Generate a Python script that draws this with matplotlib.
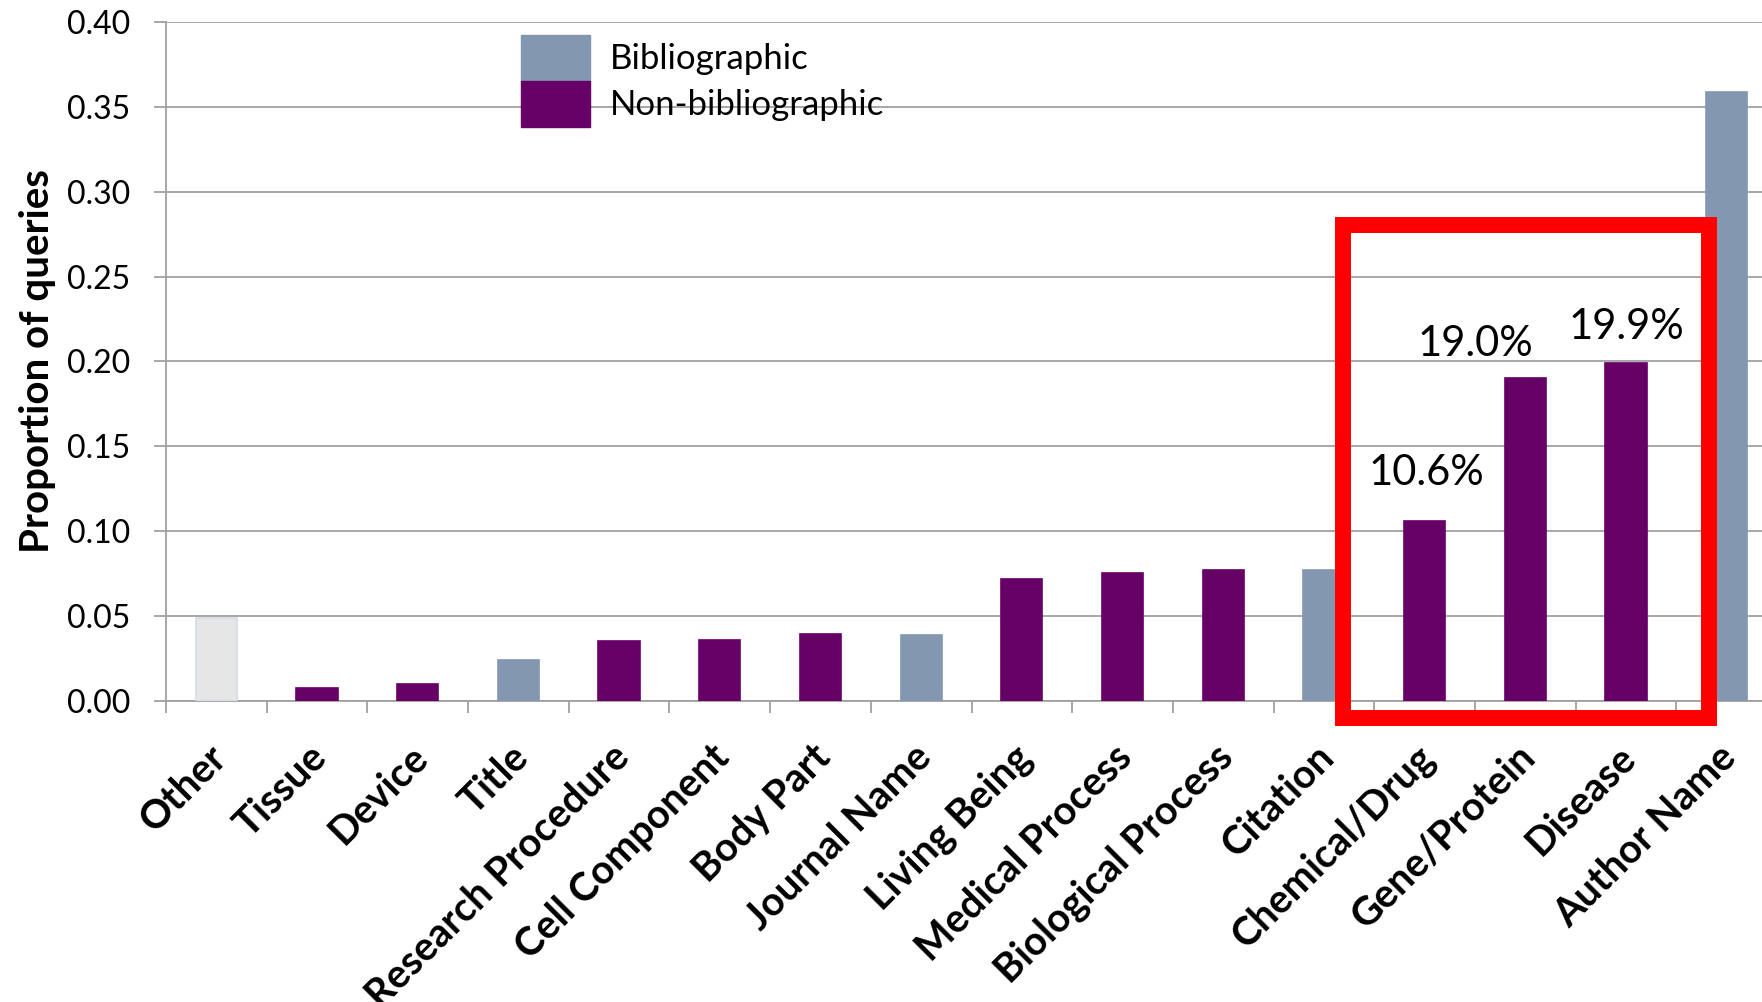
import numpy as np
import matplotlib
matplotlib.use("Agg")
import matplotlib.pyplot as plt
from matplotlib.patches import Rectangle, Patch
from matplotlib.transforms import ScaledTranslation

categories = ["Other", "Tissue", "Device", "Title", "Research Procedure",
              "Cell Component", "Body Part", "Journal Name", "Living Being",
              "Medical Process", "Biological Process", "Citation",
              "Chemical/Drug", "Gene/Protein", "Disease", "Author Name"]
values = [0.049, 0.0075, 0.010, 0.024, 0.035, 0.036, 0.0395, 0.039, 0.0717,
          0.075, 0.077, 0.077, 0.106, 0.190, 0.199, 0.359]
kinds = ["other", "non", "non", "bib", "non", "non", "non", "bib", "non",
         "non", "non", "bib", "non", "non", "non", "bib"]
highlight_labels = {"Chemical/Drug": "10.6%", "Gene/Protein": "19.0%", "Disease": "19.9%"}
legend_labels = ["Bibliographic", "Non-bibliographic"]
yticks = [0.00, 0.05, 0.10, 0.15, 0.20, 0.25, 0.30, 0.35, 0.40]

BIB = "#8497B0"
NON = "#660066"
OTHER = "#E6E6E6"
GRID = "#A0A0A0"
SANS = ["Lato", "DejaVu Sans"]

color_map = {"bib": BIB, "non": NON, "other": OTHER}
edge_map = {"bib": BIB, "non": NON, "other": "#D3DBEA"}

fig = plt.figure(figsize=(17.62, 10.02), dpi=100)
ax = fig.add_axes([166 / 1762, 1 - 700.7 / 1002, (1777 - 166) / 1762, 678.7 / 1002])

x = np.arange(len(categories))
ax.bar(x, values, width=0.41, color=[color_map[k] for k in kinds],
       edgecolor=[edge_map[k] for k in kinds], linewidth=1.2, zorder=3)

ax.set_xlim(-0.5, len(categories) - 0.5)
ax.set_ylim(0, 0.40)
ax.set_yticks(yticks)
ax.set_yticklabels([f"{t:.2f}" for t in yticks], fontsize=23, family=SANS)
ax.grid(axis="y", color=GRID, linewidth=1.3, zorder=0)
ax.set_axisbelow(True)
for s in ["top", "right"]:
    ax.spines[s].set_visible(False)
for s in ["left", "bottom"]:
    ax.spines[s].set_color(GRID)
    ax.spines[s].set_linewidth(1.3)
ax.tick_params(axis="y", length=8.6, width=1.3, color=GRID, pad=17)

ax.set_xticks(x)
ax.set_xticklabels(categories, rotation=45, ha="right", va="top",
                   rotation_mode="anchor", fontsize=28.5, fontweight="bold", family=SANS)
ax.tick_params(axis="x", which="major", length=0, pad=27)
ax.set_xticks(np.arange(-0.5, len(categories), 1), minor=True)
ax.tick_params(axis="x", which="minor", length=8.6, width=1.3, color=GRID)
shift = ScaledTranslation(-9 / 100, 0, fig.dpi_scale_trans)
for lab in ax.get_xticklabels():
    lab.set_transform(lab.get_transform() + shift)

ax.set_ylabel("Proportion of queries", fontsize=29, fontweight="bold", family=SANS)
ax.yaxis.set_label_coords((38 - 166) / 1611, 0.5)
ax.yaxis.label.set_va("center")

offsets = {"Chemical/Drug": (1.5, 26), "Gene/Protein": (-35.6, 16), "Disease": (0, 17)}
for i, c in enumerate(categories):
    if c in highlight_labels:
        ax.annotate(highlight_labels[c], xy=(i, values[i]), xytext=offsets[c],
                    textcoords="offset points", ha="center", va="baseline",
                    fontsize=30, family=SANS, zorder=6)

# highlight box around the three largest non-bibliographic categories
i0 = categories.index("Chemical/Drug")
i1 = categories.index("Disease")
rect = Rectangle((i0 - 0.81, -0.0102), (i1 + 0.82) - (i0 - 0.81), 0.2906,
                 fill=False, edgecolor="#FF0000", linewidth=11.5,
                 joinstyle="miter", clip_on=False, zorder=5)
ax.add_patch(rect)

handles = [Patch(facecolor=BIB, edgecolor=BIB), Patch(facecolor=NON, edgecolor=NON)]
leg = ax.legend(handles, legend_labels, loc="upper left",
                bbox_to_anchor=((521 - 166) / 1611, (700.7 - 35) / 678.7),
                frameon=False, borderpad=0, borderaxespad=0, labelspacing=0,
                handlelength=2.0, handleheight=1.66, handletextpad=0.55,
                prop={"family": SANS, "size": 25})

fig.savefig("out.png", dpi=100)
